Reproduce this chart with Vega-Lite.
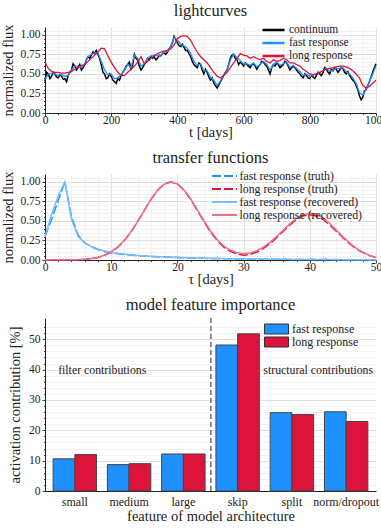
{
"$schema": "https://vega.github.io/schema/vega-lite/v6.json",
"padding": {"left": 0, "top": 2, "right": 5, "bottom": 0},
"spacing": 10,
"config": {
  "font": "Liberation Serif",
  "view": {"stroke": null},
  "axis": {"labelFont": "Liberation Serif", "titleFont": "Liberation Serif", "labelFontSize": 11.5, "titleFontSize": 14.5, "titleFontWeight": "normal", "labelColor": "#222", "titleColor": "#222", "domainColor": "#222", "tickColor": "#444", "labelOverlap": false, "labelFlush": false},
  "title": {"font": "Liberation Serif", "fontSize": 16.5, "fontWeight": "normal", "color": "#222", "offset": 4},
  "legend": {"labelFont": "Liberation Serif", "labelFontSize": 11.5, "labelColor": "#222", "title": null}
},
"resolve": {"scale": {"color": "independent", "strokeDash": "independent"}, "legend": {"color": "independent", "strokeDash": "independent"}},
"datasets": {
  "lc": [
{"t":0,"continuum":0.40},{"t":5,"continuum":0.52},{"t":10,"continuum":0.50},{"t":15,"continuum":0.44},{"t":20,"continuum":0.47},{"t":25,"continuum":0.52},{"t":30,"continuum":0.50},{"t":35,"continuum":0.46},{"t":40,"continuum":0.45},{"t":45,"continuum":0.49},{"t":50,"continuum":0.47},{"t":55,"continuum":0.43},{"t":60,"continuum":0.44},{"t":65,"continuum":0.40},{"t":70,"continuum":0.48},{"t":75,"continuum":0.52},{"t":80,"continuum":0.55},{"t":85,"continuum":0.63},{"t":90,"continuum":0.60},{"t":95,"continuum":0.55},{"t":100,"continuum":0.58},{"t":105,"continuum":0.62},{"t":110,"continuum":0.55},{"t":115,"continuum":0.58},{"t":120,"continuum":0.62},{"t":125,"continuum":0.68},{"t":130,"continuum":0.72},{"t":135,"continuum":0.70},{"t":140,"continuum":0.74},{"t":145,"continuum":0.78},{"t":150,"continuum":0.76},{"t":155,"continuum":0.80},{"t":160,"continuum":0.75},{"t":165,"continuum":0.70},{"t":170,"continuum":0.62},{"t":175,"continuum":0.52},{"t":180,"continuum":0.50},{"t":185,"continuum":0.44},{"t":190,"continuum":0.45},{"t":195,"continuum":0.50},{"t":200,"continuum":0.47},{"t":205,"continuum":0.42},{"t":210,"continuum":0.40},{"t":215,"continuum":0.38},{"t":220,"continuum":0.44},{"t":225,"continuum":0.42},{"t":230,"continuum":0.48},{"t":235,"continuum":0.52},{"t":240,"continuum":0.55},{"t":245,"continuum":0.60},{"t":250,"continuum":0.62},{"t":255,"continuum":0.65},{"t":260,"continuum":0.55},{"t":265,"continuum":0.62},{"t":270,"continuum":0.75},{"t":275,"continuum":0.70},{"t":280,"continuum":0.68},{"t":285,"continuum":0.60},{"t":290,"continuum":0.55},{"t":295,"continuum":0.58},{"t":300,"continuum":0.62},{"t":305,"continuum":0.66},{"t":310,"continuum":0.70},{"t":315,"continuum":0.68},{"t":320,"continuum":0.72},{"t":325,"continuum":0.70},{"t":330,"continuum":0.72},{"t":335,"continuum":0.68},{"t":340,"continuum":0.70},{"t":345,"continuum":0.74},{"t":350,"continuum":0.73},{"t":355,"continuum":0.76},{"t":360,"continuum":0.77},{"t":365,"continuum":0.75},{"t":370,"continuum":0.78},{"t":375,"continuum":0.82},{"t":380,"continuum":0.85},{"t":385,"continuum":0.90},{"t":390,"continuum":0.98},{"t":395,"continuum":0.94},{"t":400,"continuum":0.90},{"t":405,"continuum":0.86},{"t":410,"continuum":0.85},{"t":415,"continuum":0.88},{"t":420,"continuum":0.84},{"t":425,"continuum":0.80},{"t":430,"continuum":0.80},{"t":435,"continuum":0.76},{"t":440,"continuum":0.72},{"t":445,"continuum":0.66},{"t":450,"continuum":0.62},{"t":455,"continuum":0.60},{"t":460,"continuum":0.58},{"t":465,"continuum":0.64},{"t":470,"continuum":0.62},{"t":475,"continuum":0.55},{"t":480,"continuum":0.50},{"t":485,"continuum":0.56},{"t":490,"continuum":0.52},{"t":495,"continuum":0.46},{"t":500,"continuum":0.42},{"t":505,"continuum":0.45},{"t":510,"continuum":0.38},{"t":515,"continuum":0.35},{"t":520,"continuum":0.32},{"t":525,"continuum":0.36},{"t":530,"continuum":0.40},{"t":535,"continuum":0.44},{"t":540,"continuum":0.48},{"t":545,"continuum":0.52},{"t":550,"continuum":0.55},{"t":555,"continuum":0.62},{"t":560,"continuum":0.70},{"t":565,"continuum":0.74},{"t":570,"continuum":0.75},{"t":575,"continuum":0.70},{"t":580,"continuum":0.68},{"t":585,"continuum":0.62},{"t":590,"continuum":0.65},{"t":595,"continuum":0.63},{"t":600,"continuum":0.60},{"t":605,"continuum":0.64},{"t":610,"continuum":0.62},{"t":615,"continuum":0.60},{"t":620,"continuum":0.58},{"t":625,"continuum":0.62},{"t":630,"continuum":0.63},{"t":635,"continuum":0.60},{"t":640,"continuum":0.56},{"t":645,"continuum":0.60},{"t":650,"continuum":0.62},{"t":655,"continuum":0.66},{"t":660,"continuum":0.65},{"t":665,"continuum":0.62},{"t":670,"continuum":0.60},{"t":675,"continuum":0.55},{"t":680,"continuum":0.50},{"t":685,"continuum":0.58},{"t":690,"continuum":0.62},{"t":695,"continuum":0.60},{"t":700,"continuum":0.64},{"t":705,"continuum":0.62},{"t":710,"continuum":0.58},{"t":715,"continuum":0.60},{"t":720,"continuum":0.62},{"t":725,"continuum":0.66},{"t":730,"continuum":0.64},{"t":735,"continuum":0.60},{"t":740,"continuum":0.55},{"t":745,"continuum":0.58},{"t":750,"continuum":0.60},{"t":755,"continuum":0.58},{"t":760,"continuum":0.55},{"t":765,"continuum":0.52},{"t":770,"continuum":0.50},{"t":775,"continuum":0.47},{"t":780,"continuum":0.45},{"t":785,"continuum":0.50},{"t":790,"continuum":0.48},{"t":795,"continuum":0.45},{"t":800,"continuum":0.44},{"t":805,"continuum":0.48},{"t":810,"continuum":0.46},{"t":815,"continuum":0.44},{"t":820,"continuum":0.48},{"t":825,"continuum":0.52},{"t":830,"continuum":0.50},{"t":835,"continuum":0.48},{"t":840,"continuum":0.52},{"t":845,"continuum":0.58},{"t":850,"continuum":0.56},{"t":855,"continuum":0.52},{"t":860,"continuum":0.50},{"t":865,"continuum":0.56},{"t":870,"continuum":0.54},{"t":875,"continuum":0.58},{"t":880,"continuum":0.56},{"t":885,"continuum":0.52},{"t":890,"continuum":0.55},{"t":895,"continuum":0.58},{"t":900,"continuum":0.57},{"t":905,"continuum":0.52},{"t":910,"continuum":0.50},{"t":915,"continuum":0.53},{"t":920,"continuum":0.48},{"t":925,"continuum":0.45},{"t":930,"continuum":0.42},{"t":935,"continuum":0.40},{"t":940,"continuum":0.35},{"t":945,"continuum":0.30},{"t":950,"continuum":0.22},{"t":955,"continuum":0.17},{"t":960,"continuum":0.20},{"t":965,"continuum":0.28},{"t":970,"continuum":0.30},{"t":975,"continuum":0.35},{"t":980,"continuum":0.40},{"t":985,"continuum":0.46},{"t":990,"continuum":0.52},{"t":995,"continuum":0.58},{"t":1000,"continuum":0.63}
  ],
  "resp": [
{"t":0,"fast response":0.43,"long response":0.65},{"t":10,"fast response":0.50,"long response":0.57},{"t":20,"fast response":0.50,"long response":0.53},{"t":30,"fast response":0.50,"long response":0.52},{"t":40,"fast response":0.48,"long response":0.52},{"t":50,"fast response":0.49,"long response":0.51},{"t":60,"fast response":0.47,"long response":0.51},{"t":70,"fast response":0.48,"long response":0.52},{"t":80,"fast response":0.55,"long response":0.53},{"t":90,"fast response":0.60,"long response":0.56},{"t":100,"fast response":0.60,"long response":0.59},{"t":110,"fast response":0.58,"long response":0.61},{"t":120,"fast response":0.63,"long response":0.62},{"t":130,"fast response":0.72,"long response":0.66},{"t":140,"fast response":0.75,"long response":0.70},{"t":150,"fast response":0.77,"long response":0.74},{"t":160,"fast response":0.77,"long response":0.78},{"t":170,"fast response":0.66,"long response":0.83},{"t":180,"fast response":0.55,"long response":0.82},{"t":190,"fast response":0.49,"long response":0.73},{"t":200,"fast response":0.50,"long response":0.65},{"t":210,"fast response":0.44,"long response":0.58},{"t":220,"fast response":0.45,"long response":0.52},{"t":230,"fast response":0.49,"long response":0.48},{"t":240,"fast response":0.55,"long response":0.48},{"t":250,"fast response":0.62,"long response":0.52},{"t":260,"fast response":0.58,"long response":0.56},{"t":270,"fast response":0.74,"long response":0.60},{"t":280,"fast response":0.70,"long response":0.65},{"t":290,"fast response":0.60,"long response":0.72},{"t":300,"fast response":0.63,"long response":0.63},{"t":310,"fast response":0.70,"long response":0.66},{"t":320,"fast response":0.73,"long response":0.70},{"t":330,"fast response":0.74,"long response":0.73},{"t":340,"fast response":0.73,"long response":0.76},{"t":350,"fast response":0.74,"long response":0.78},{"t":360,"fast response":0.78,"long response":0.79},{"t":370,"fast response":0.79,"long response":0.80},{"t":380,"fast response":0.85,"long response":0.82},{"t":390,"fast response":0.97,"long response":0.87},{"t":400,"fast response":0.93,"long response":0.95},{"t":410,"fast response":0.88,"long response":0.98},{"t":420,"fast response":0.86,"long response":0.99},{"t":430,"fast response":0.83,"long response":0.98},{"t":440,"fast response":0.76,"long response":0.93},{"t":450,"fast response":0.66,"long response":0.85},{"t":460,"fast response":0.61,"long response":0.78},{"t":470,"fast response":0.63,"long response":0.72},{"t":480,"fast response":0.54,"long response":0.68},{"t":490,"fast response":0.54,"long response":0.64},{"t":500,"fast response":0.46,"long response":0.58},{"t":510,"fast response":0.42,"long response":0.52},{"t":520,"fast response":0.35,"long response":0.47},{"t":530,"fast response":0.41,"long response":0.45},{"t":540,"fast response":0.48,"long response":0.48},{"t":550,"fast response":0.55,"long response":0.52},{"t":560,"fast response":0.68,"long response":0.58},{"t":570,"fast response":0.75,"long response":0.64},{"t":580,"fast response":0.71,"long response":0.70},{"t":590,"fast response":0.67,"long response":0.76},{"t":600,"fast response":0.63,"long response":0.74},{"t":610,"fast response":0.63,"long response":0.73},{"t":620,"fast response":0.61,"long response":0.70},{"t":630,"fast response":0.64,"long response":0.72},{"t":640,"fast response":0.59,"long response":0.70},{"t":650,"fast response":0.62,"long response":0.68},{"t":660,"fast response":0.66,"long response":0.70},{"t":670,"fast response":0.62,"long response":0.66},{"t":680,"fast response":0.55,"long response":0.64},{"t":690,"fast response":0.62,"long response":0.68},{"t":700,"fast response":0.65,"long response":0.66},{"t":710,"fast response":0.61,"long response":0.67},{"t":720,"fast response":0.63,"long response":0.70},{"t":730,"fast response":0.65,"long response":0.68},{"t":740,"fast response":0.58,"long response":0.64},{"t":750,"fast response":0.61,"long response":0.64},{"t":760,"fast response":0.57,"long response":0.62},{"t":770,"fast response":0.53,"long response":0.60},{"t":780,"fast response":0.48,"long response":0.56},{"t":790,"fast response":0.50,"long response":0.53},{"t":800,"fast response":0.47,"long response":0.50},{"t":810,"fast response":0.48,"long response":0.49},{"t":820,"fast response":0.50,"long response":0.50},{"t":830,"fast response":0.52,"long response":0.52},{"t":840,"fast response":0.54,"long response":0.54},{"t":850,"fast response":0.57,"long response":0.56},{"t":860,"fast response":0.53,"long response":0.57},{"t":870,"fast response":0.55,"long response":0.58},{"t":880,"fast response":0.57,"long response":0.59},{"t":890,"fast response":0.57,"long response":0.60},{"t":900,"fast response":0.58,"long response":0.60},{"t":910,"fast response":0.53,"long response":0.59},{"t":920,"fast response":0.50,"long response":0.57},{"t":930,"fast response":0.45,"long response":0.54},{"t":940,"fast response":0.38,"long response":0.50},{"t":950,"fast response":0.26,"long response":0.45},{"t":960,"fast response":0.23,"long response":0.35},{"t":970,"fast response":0.30,"long response":0.32},{"t":980,"fast response":0.40,"long response":0.34},{"t":990,"fast response":0.50,"long response":0.38},{"t":1000,"fast response":0.60,"long response":0.42}
  ],
  "tf": [
{"tau":0,"fast response (truth)":0.30,"long response (truth)":0.000,"fast response (recovered)":0.30,"long response (recovered)":0.002},
{"tau":1,"fast response (truth)":0.52,"long response (truth)":0.000,"fast response (recovered)":0.58,"long response (recovered)":0.002},
{"tau":2,"fast response (truth)":0.76,"long response (truth)":0.000,"fast response (recovered)":0.82,"long response (recovered)":0.002},
{"tau":3,"fast response (truth)":1.00,"long response (truth)":0.001,"fast response (recovered)":1.00,"long response (recovered)":0.002},
{"tau":4,"fast response (truth)":0.55,"long response (truth)":0.002,"fast response (recovered)":0.52,"long response (recovered)":0.003},
{"tau":5,"fast response (truth)":0.32,"long response (truth)":0.004,"fast response (recovered)":0.30,"long response (recovered)":0.005},
{"tau":6,"fast response (truth)":0.22,"long response (truth)":0.008,"fast response (recovered)":0.22,"long response (recovered)":0.009},
{"tau":7,"fast response (truth)":0.17,"long response (truth)":0.017,"fast response (recovered)":0.17,"long response (recovered)":0.018},
{"tau":8,"fast response (truth)":0.135,"long response (truth)":0.032,"fast response (recovered)":0.14,"long response (recovered)":0.034},
{"tau":9,"fast response (truth)":0.11,"long response (truth)":0.059,"fast response (recovered)":0.115,"long response (recovered)":0.062},
{"tau":10,"fast response (truth)":0.093,"long response (truth)":0.101,"fast response (recovered)":0.097,"long response (recovered)":0.105},
{"tau":11,"fast response (truth)":0.081,"long response (truth)":0.163,"fast response (recovered)":0.084,"long response (recovered)":0.168},
{"tau":12,"fast response (truth)":0.071,"long response (truth)":0.249,"fast response (recovered)":0.073,"long response (recovered)":0.254},
{"tau":13,"fast response (truth)":0.063,"long response (truth)":0.360,"fast response (recovered)":0.065,"long response (recovered)":0.364},
{"tau":14,"fast response (truth)":0.056,"long response (truth)":0.492,"fast response (recovered)":0.058,"long response (recovered)":0.494},
{"tau":15,"fast response (truth)":0.050,"long response (truth)":0.635,"fast response (recovered)":0.052,"long response (recovered)":0.634},
{"tau":16,"fast response (truth)":0.045,"long response (truth)":0.775,"fast response (recovered)":0.047,"long response (recovered)":0.772},
{"tau":17,"fast response (truth)":0.041,"long response (truth)":0.893,"fast response (recovered)":0.043,"long response (recovered)":0.889},
{"tau":18,"fast response (truth)":0.037,"long response (truth)":0.972,"fast response (recovered)":0.039,"long response (recovered)":0.968},
{"tau":19,"fast response (truth)":0.034,"long response (truth)":1.000,"fast response (recovered)":0.036,"long response (recovered)":0.997},
{"tau":20,"fast response (truth)":0.031,"long response (truth)":0.972,"fast response (recovered)":0.033,"long response (recovered)":0.972},
{"tau":21,"fast response (truth)":0.028,"long response (truth)":0.893,"fast response (recovered)":0.030,"long response (recovered)":0.897},
{"tau":22,"fast response (truth)":0.026,"long response (truth)":0.775,"fast response (recovered)":0.027,"long response (recovered)":0.782},
{"tau":23,"fast response (truth)":0.024,"long response (truth)":0.635,"fast response (recovered)":0.025,"long response (recovered)":0.645},
{"tau":24,"fast response (truth)":0.022,"long response (truth)":0.492,"fast response (recovered)":0.023,"long response (recovered)":0.503},
{"tau":25,"fast response (truth)":0.020,"long response (truth)":0.360,"fast response (recovered)":0.021,"long response (recovered)":0.373},
{"tau":26,"fast response (truth)":0.018,"long response (truth)":0.249,"fast response (recovered)":0.019,"long response (recovered)":0.263},
{"tau":27,"fast response (truth)":0.017,"long response (truth)":0.163,"fast response (recovered)":0.018,"long response (recovered)":0.178},
{"tau":28,"fast response (truth)":0.015,"long response (truth)":0.110,"fast response (recovered)":0.016,"long response (recovered)":0.125},
{"tau":29,"fast response (truth)":0.014,"long response (truth)":0.078,"fast response (recovered)":0.015,"long response (recovered)":0.094},
{"tau":30,"fast response (truth)":0.013,"long response (truth)":0.062,"fast response (recovered)":0.014,"long response (recovered)":0.082},
{"tau":31,"fast response (truth)":0.012,"long response (truth)":0.072,"fast response (recovered)":0.013,"long response (recovered)":0.090},
{"tau":32,"fast response (truth)":0.011,"long response (truth)":0.103,"fast response (recovered)":0.012,"long response (recovered)":0.120},
{"tau":33,"fast response (truth)":0.010,"long response (truth)":0.148,"fast response (recovered)":0.011,"long response (recovered)":0.165},
{"tau":34,"fast response (truth)":0.009,"long response (truth)":0.211,"fast response (recovered)":0.010,"long response (recovered)":0.228},
{"tau":35,"fast response (truth)":0.009,"long response (truth)":0.286,"fast response (recovered)":0.009,"long response (recovered)":0.302},
{"tau":36,"fast response (truth)":0.008,"long response (truth)":0.368,"fast response (recovered)":0.009,"long response (recovered)":0.383},
{"tau":37,"fast response (truth)":0.007,"long response (truth)":0.450,"fast response (recovered)":0.008,"long response (recovered)":0.465},
{"tau":38,"fast response (truth)":0.007,"long response (truth)":0.518,"fast response (recovered)":0.007,"long response (recovered)":0.533},
{"tau":39,"fast response (truth)":0.006,"long response (truth)":0.564,"fast response (recovered)":0.007,"long response (recovered)":0.580},
{"tau":40,"fast response (truth)":0.006,"long response (truth)":0.580,"fast response (recovered)":0.006,"long response (recovered)":0.600},
{"tau":41,"fast response (truth)":0.005,"long response (truth)":0.564,"fast response (recovered)":0.006,"long response (recovered)":0.585},
{"tau":42,"fast response (truth)":0.005,"long response (truth)":0.518,"fast response (recovered)":0.005,"long response (recovered)":0.538},
{"tau":43,"fast response (truth)":0.005,"long response (truth)":0.450,"fast response (recovered)":0.005,"long response (recovered)":0.468},
{"tau":44,"fast response (truth)":0.004,"long response (truth)":0.368,"fast response (recovered)":0.005,"long response (recovered)":0.384},
{"tau":45,"fast response (truth)":0.004,"long response (truth)":0.285,"fast response (recovered)":0.004,"long response (recovered)":0.298},
{"tau":46,"fast response (truth)":0.004,"long response (truth)":0.209,"fast response (recovered)":0.004,"long response (recovered)":0.219},
{"tau":47,"fast response (truth)":0.003,"long response (truth)":0.144,"fast response (recovered)":0.004,"long response (recovered)":0.151},
{"tau":48,"fast response (truth)":0.003,"long response (truth)":0.095,"fast response (recovered)":0.003,"long response (recovered)":0.099},
{"tau":49,"fast response (truth)":0.003,"long response (truth)":0.058,"fast response (recovered)":0.003,"long response (recovered)":0.060},
{"tau":50,"fast response (truth)":0.003,"long response (truth)":0.030,"fast response (recovered)":0.003,"long response (recovered)":0.030}
  ],
  "bars": [
{"feature":"small","series":"fast response","value":10.6},{"feature":"small","series":"long response","value":12.0},
{"feature":"medium","series":"fast response","value":8.7},{"feature":"medium","series":"long response","value":9.0},
{"feature":"large","series":"fast response","value":12.2},{"feature":"large","series":"long response","value":12.2},
{"feature":"skip","series":"fast response","value":48.1},{"feature":"skip","series":"long response","value":51.8},
{"feature":"split","series":"fast response","value":25.8},{"feature":"split","series":"long response","value":25.2},
{"feature":"norm/dropout","series":"fast response","value":26.1},{"feature":"norm/dropout","series":"long response","value":22.9}
  ]
},
"vconcat": [
  {
    "width": 331, "height": 86,
    "title": "lightcurves",
    "encoding": {
      "x": {"field": "t", "type": "quantitative", "title": "t [days]", "scale": {"domain": [0, 1000], "nice": false},
            "axis": {"values": [0,40,80,120,160,200,240,280,320,360,400,440,480,520,560,600,640,680,720,760,800,840,880,920,960,1000],
                     "labelOverlap": false, "labelFlush": false, "labelPadding": -2,
                     "labelExpr": "datum.value % 200 === 0 ? datum.value : ''",
                     "tickSize": {"condition": {"test": "datum.value % 200 === 0", "value": 3}, "value": 1.5},
                     "gridColor": {"condition": {"test": "datum.value % 200 === 0", "value": "#e0e0e0"}, "value": "#f2f2f2"},
                     "titlePadding": 0}},
      "y": {"field": "flux", "type": "quantitative", "title": "normalized flux", "scale": {"domain": [0, 1.1], "nice": false},
            "axis": {"values": [0,0.05,0.1,0.15,0.2,0.25,0.3,0.35,0.4,0.45,0.5,0.55,0.6,0.65,0.7,0.75,0.8,0.85,0.9,0.95,1,1.05],
                     "labelOverlap": false, "labelPadding": 2,
                     "labelExpr": "abs(datum.value*4-round(datum.value*4))<0.001 ? format(datum.value,'.2f') : ''",
                     "tickSize": {"condition": {"test": "abs(datum.value*4-round(datum.value*4))<0.001", "value": 3}, "value": 1.5},
                     "gridColor": {"condition": {"test": "abs(datum.value*4-round(datum.value*4))<0.001", "value": "#e0e0e0"}, "value": "#f2f2f2"},
                     "titlePadding": 4}},
      "color": {"field": "series", "type": "nominal",
                "scale": {"domain": ["continuum", "fast response", "long response"], "range": ["#000000", "#1E90FF", "#DC143C"]},
                "legend": {"orient": "none", "legendX": 221.5, "legendY": -4, "symbolType": "M-2,0H2", "symbolSize": 121, "symbolStrokeWidth": 2.5, "labelOffset": 8.5, "rowPadding": -3.5, "padding": 0, "labelFontSize": 11.5}}
    },
    "layer": [
      {
        "data": {"name": "lc"},
        "transform": [{"fold": ["continuum"], "as": ["series", "flux"]}],
        "mark": {"type": "line", "strokeWidth": 1.5}
      },
      {
        "data": {"name": "resp"},
        "transform": [{"fold": ["fast response", "long response"], "as": ["series", "flux"]}],
        "mark": {"type": "line", "strokeWidth": 1.3}
      }
    ]
  },
  {
    "width": 331, "height": 86,
    "title": "transfer functions",
    "data": {"name": "tf"},
    "transform": [{"fold": ["fast response (truth)", "long response (truth)", "fast response (recovered)", "long response (recovered)"], "as": ["series", "flux"]}],
    "mark": {"type": "line", "strokeWidth": 1.5},
    "encoding": {
      "x": {"field": "tau", "type": "quantitative", "title": "τ [days]", "scale": {"domain": [0, 50], "nice": false},
            "axis": {"values": [0,2,4,6,8,10,12,14,16,18,20,22,24,26,28,30,32,34,36,38,40,42,44,46,48,50],
                     "labelOverlap": false, "labelFlush": false, "labelPadding": -2,
                     "labelExpr": "datum.value % 10 === 0 ? datum.value : ''",
                     "tickSize": {"condition": {"test": "datum.value % 10 === 0", "value": 3}, "value": 1.5},
                     "gridColor": {"condition": {"test": "datum.value % 10 === 0", "value": "#e0e0e0"}, "value": "#f2f2f2"},
                     "titlePadding": 0}},
      "y": {"field": "flux", "type": "quantitative", "title": "normalized flux", "scale": {"domain": [0, 1.1], "nice": false},
            "axis": {"values": [0,0.05,0.1,0.15,0.2,0.25,0.3,0.35,0.4,0.45,0.5,0.55,0.6,0.65,0.7,0.75,0.8,0.85,0.9,0.95,1,1.05],
                     "labelOverlap": false, "labelPadding": 2,
                     "labelExpr": "abs(datum.value*4-round(datum.value*4))<0.001 ? format(datum.value,'.2f') : ''",
                     "tickSize": {"condition": {"test": "abs(datum.value*4-round(datum.value*4))<0.001", "value": 3}, "value": 1.5},
                     "gridColor": {"condition": {"test": "abs(datum.value*4-round(datum.value*4))<0.001", "value": "#e0e0e0"}, "value": "#f2f2f2"},
                     "titlePadding": 4}},
      "color": {"field": "series", "type": "nominal",
                "scale": {"domain": ["fast response (truth)", "long response (truth)", "fast response (recovered)", "long response (recovered)"], "range": ["#1E90FF", "#DC143C", "#78bcff", "#ea728a"]},
                "legend": {"orient": "none", "legendX": 173.5, "legendY": -4, "symbolType": "M-2.5,0H2.5", "symbolSize": 100, "symbolStrokeWidth": 2, "labelOffset": 9, "rowPadding": -5.5, "padding": 0, "labelFontSize": 11.8}},
      "strokeDash": {"field": "series", "type": "nominal",
                "scale": {"domain": ["fast response (truth)", "long response (truth)", "fast response (recovered)", "long response (recovered)"], "range": [[9,3],[9,3],[1,0],[1,0]]}}
    }
  },
  {
    "width": 331, "height": 173,
    "title": "model feature importance",
    "layer": [
      {
        "data": {"name": "bars"},
        "mark": {"type": "bar", "stroke": "#444", "strokeWidth": 1},
        "encoding": {
          "x": {"field": "feature", "type": "nominal", "sort": null, "title": "feature of model architecture",
                "scale": {"domain": ["small", "medium", "large", "skip", "split", "norm/dropout"], "paddingInner": 0.2, "paddingOuter": 0.15},
                "axis": {"labelAngle": 0, "ticks": false, "labelPadding": 5, "titlePadding": 2, "grid": false, "labelFontSize": 12, "labelOverlap": false}},
          "xOffset": {"field": "series", "type": "nominal", "scale": {"domain": ["fast response", "long response"], "paddingInner": 0, "paddingOuter": 0}},
          "y": {"field": "value", "type": "quantitative", "title": "activation contribution [%]", "scale": {"domain": [0, 57], "nice": false},
                "axis": {"values": [0,2,4,6,8,10,12,14,16,18,20,22,24,26,28,30,32,34,36,38,40,42,44,46,48,50,52,54],
                         "labelOverlap": false, "labelPadding": 2,
                         "labelExpr": "datum.value % 10 === 0 ? datum.value : ''",
                         "tickSize": {"condition": {"test": "datum.value % 10 === 0", "value": 3}, "value": 1.5},
                         "gridColor": {"condition": {"test": "datum.value % 10 === 0", "value": "#e0e0e0"}, "value": "#f2f2f2"},
                         "titlePadding": 6}},
          "color": {"field": "series", "type": "nominal",
                    "scale": {"domain": ["fast response", "long response"], "range": ["#1E90FF", "#DC143C"]},
                    "legend": {"orient": "none", "legendX": 225.5, "legendY": 5, "symbolType": "M-2.4,-1H2.4V1H-2.4Z", "symbolSize": 100, "symbolStrokeColor": "#333", "symbolStrokeWidth": 1, "symbolOpacity": 1, "labelOffset": 9.5, "rowPadding": -4.5, "padding": 0, "labelFontSize": 12}}
        }
      },
      {
        "data": {"values": [{}]},
        "mark": {"type": "rule", "strokeDash": [5, 3], "color": "#555", "strokeWidth": 1.3},
        "encoding": {"x": {"datum": "skip", "bandPosition": -0.115}}
      },
      {
        "data": {"values": [{"feature": "small", "label": "filter contributions", "value": 40}]},
        "mark": {"type": "text", "align": "left", "baseline": "middle", "dx": 5, "fontSize": 11.8, "font": "Liberation Serif", "color": "#222"},
        "encoding": {
          "x": {"field": "feature", "type": "nominal", "bandPosition": 0, "title": "feature of model architecture",
                "axis": {"labelAngle": 0, "ticks": false, "labelPadding": 5, "titlePadding": 2, "grid": false, "labelFontSize": 12, "labelOverlap": false}},
          "y": {"field": "value", "type": "quantitative", "title": "activation contribution [%]",
                "axis": {"values": [0,2,4,6,8,10,12,14,16,18,20,22,24,26,28,30,32,34,36,38,40,42,44,46,48,50,52,54],
                         "labelOverlap": false, "labelPadding": 2,
                         "labelExpr": "datum.value % 10 === 0 ? datum.value : ''",
                         "tickSize": {"condition": {"test": "datum.value % 10 === 0", "value": 3}, "value": 1.5},
                         "gridColor": {"condition": {"test": "datum.value % 10 === 0", "value": "#e0e0e0"}, "value": "#f2f2f2"},
                         "titlePadding": 6}},
          "text": {"field": "label"}}
      },
      {
        "data": {"values": [{"feature": "skip", "label": "structural contributions", "value": 40}]},
        "mark": {"type": "text", "align": "left", "baseline": "middle", "dx": 4, "fontSize": 11.8, "font": "Liberation Serif", "color": "#222"},
        "encoding": {
          "x": {"field": "feature", "type": "nominal", "bandPosition": 1, "title": "feature of model architecture",
                "axis": {"labelAngle": 0, "ticks": false, "labelPadding": 5, "titlePadding": 2, "grid": false, "labelFontSize": 12, "labelOverlap": false}},
          "y": {"field": "value", "type": "quantitative", "title": "activation contribution [%]",
                "axis": {"values": [0,2,4,6,8,10,12,14,16,18,20,22,24,26,28,30,32,34,36,38,40,42,44,46,48,50,52,54],
                         "labelOverlap": false, "labelPadding": 2,
                         "labelExpr": "datum.value % 10 === 0 ? datum.value : ''",
                         "tickSize": {"condition": {"test": "datum.value % 10 === 0", "value": 3}, "value": 1.5},
                         "gridColor": {"condition": {"test": "datum.value % 10 === 0", "value": "#e0e0e0"}, "value": "#f2f2f2"},
                         "titlePadding": 6}},
          "text": {"field": "label"}}
      }
    ]
  }
]
}
